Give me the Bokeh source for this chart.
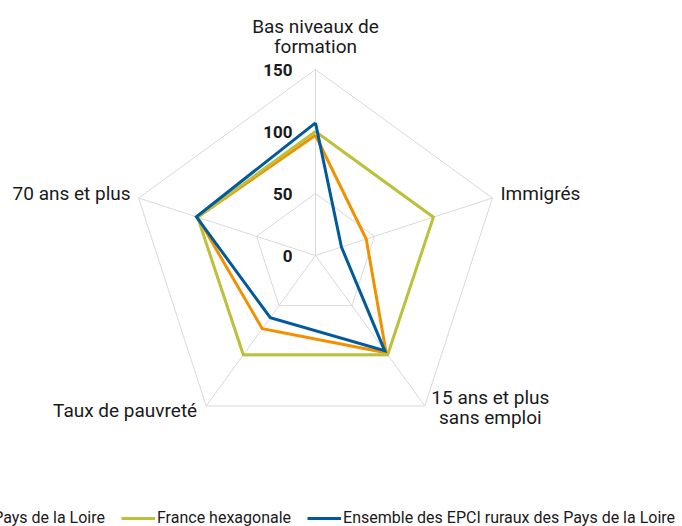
import numpy as np
from bokeh.plotting import figure
from bokeh.models import Range1d, Legend, LegendItem
from bokeh.core.properties import value
from bokeh.embed import file_html
from bokeh.resources import INLINE

# ---- data ----
categories = ["Bas niveaux de\nformation", "Immigrés", "15 ans et plus\nsans emploi",
              "Taux de pauvreté", "70 ans et plus"]
series_names = ["Région Pays de la Loire", "France hexagonale",
                "Ensemble des EPCI ruraux des Pays de la Loire"]
region = [97, 43, 97, 73, 100]
france = [100, 100, 99, 99, 100]
epci = [107, 22, 95, 62, 101]
grid_levels = [50, 100, 150]
tick_values = [0, 50, 100, 150]
tick_labels = ["0", "50", "100", "150"]
colors = ["#f29100", "#bcc03b", "#005a9b"]

FONT = "Roboto"
S = 186 / 150.0          # pixels per unit
CX, CY = 315, 255        # centre of the radar (page px)
W, H = 682, 526
MAXV = 150

x_start = (0 - CX) / S
x_end = (W - CX) / S
y_top = CY / S
y_bot = (CY - H) / S

p = figure(width=W, height=H, x_range=Range1d(x_start, x_end),
           y_range=Range1d(y_bot, y_top), output_backend="svg",
           toolbar_location=None, min_border=0)
p.axis.visible = False
p.grid.visible = False
p.outline_line_color = None
p.background_fill_color = "white"
p.border_fill_color = "white"

n = len(categories)
theta = np.pi / 2 - np.arange(n) * 2 * np.pi / n
cos_t, sin_t = np.cos(theta), np.sin(theta)

# grid pentagons
for lv in grid_levels:
    xs = list(lv * cos_t) + [lv * cos_t[0]]
    ys = list(lv * sin_t) + [lv * sin_t[0]]
    p.line(xs, ys, line_color="#d9d9d9", line_width=1)
# spokes
p.segment(x0=[0] * n, y0=[0] * n, x1=list(MAXV * cos_t), y1=list(MAXV * sin_t),
          line_color="#d9d9d9", line_width=1)

# series
renderers = []
for vals, col in zip([region, france, epci], colors):
    v = np.array(vals, dtype=float)
    xs = list(v * cos_t) + [v[0] * cos_t[0]]
    ys = list(v * sin_t) + [v[0] * sin_t[0]]
    r = p.line(xs, ys, line_color=col, line_width=3, line_join="miter")
    renderers.append(r)

# radial scale labels
p.text(x=[-23 / S] * len(tick_values), y=tick_values, text=tick_labels,
       text_align="right", text_baseline="middle", text_font=value(FONT),
       text_font_size="17px", text_font_style="bold", text_color="#1a1a1a")

# category labels: offsets in pixels from the outer vertex
offsets = [(0, 33), (8, 4.5), (65.5, -2), (-9, -4.5), (-8, 4.5)]
aligns = ["center", "left", "center", "right", "right"]
for i, cat in enumerate(categories):
    dx, dy = offsets[i]
    p.text(x=[MAXV * cos_t[i] + dx / S], y=[MAXV * sin_t[i] + dy / S], text=[cat],
           text_align=aligns[i], text_baseline="middle", text_font=value(FONT),
           text_font_size="19px", text_color="#1a1a1a", text_line_height=0.87)

legend = Legend(items=[LegendItem(label=nm, renderers=[r]) for nm, r in zip(series_names, renderers)],
                orientation="horizontal", location=(-96, -1), padding=0, margin=0,
                spacing=16, label_standoff=2, glyph_width=34, glyph_height=14,
                label_text_font=FONT, label_text_font_size="16px", label_text_color="#1a1a1a",
                border_line_alpha=0, background_fill_alpha=0)
p.add_layout(legend)

open("out.html", "w").write(file_html(p, INLINE))
